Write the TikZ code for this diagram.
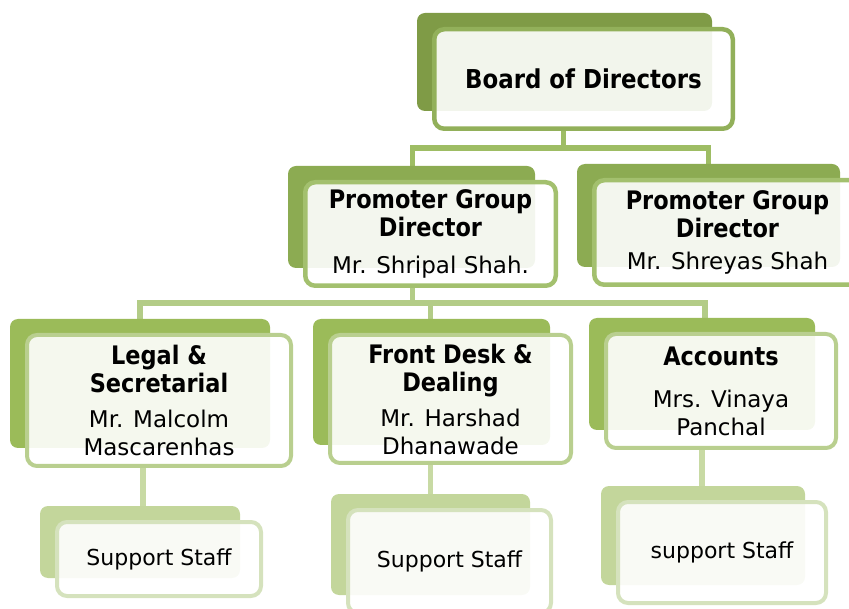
\documentclass[tikz,border=0pt]{standalone}
\usepackage{fontspec}
\setmainfont{DejaVu Sans}[BoldFeatures={FakeStretch=0.88}]
\usetikzlibrary{backgrounds}

\definecolor{back0}{HTML}{7F9B46}
\definecolor{rim0}{HTML}{92B05A}
\definecolor{back1}{HTML}{8CAB52}
\definecolor{rim1}{HTML}{A3C06E}
\definecolor{back2}{HTML}{9BBB59}
\definecolor{rim2}{HTML}{B9CF8F}
\definecolor{back3}{HTML}{C3D69B}
\definecolor{rim3}{HTML}{D5E2BD}
\definecolor{wire0}{HTML}{9EBD64}
\definecolor{wire1}{HTML}{B3CC87}
\definecolor{wire2}{HTML}{C8DAA4}

\newcommand\hd[2][25.5]{{\fontsize{#1}{28}\selectfont\bfseries #2}}

\begin{document}
\begin{tikzpicture}[x=1pt,y=-1pt,
    box/.style={rounded corners=10pt,fill=white,fill opacity=0.9,text opacity=1,
                align=center,inner sep=0pt,font=\fontsize{23}{28}\selectfont},
    board node/.style={box,draw=rim0,line width=4.5pt},
    promoter node/.style={box,draw=rim1,line width=4.5pt},
    dept node/.style={box,draw=rim2,line width=4pt},
    staff node/.style={box,draw=rim3,line width=4pt,font=\fontsize{22}{28}\selectfont},
    wire/.style={line width=5.5pt}]

  \useasboundingbox (0,0) rectangle (849,609);

  \node[board node,minimum width=298.5pt,minimum height=99.5pt] (board) at (583.5,79) {\hd[26]{Board of Directors}};

  \node[promoter node,minimum width=250.5pt,minimum height=103.5pt] (pgdA) at (430.5,234)
    {\hd{Promoter Group}\\\hd{Director}\\[9pt]Mr. Shripal Shah.};
  \node[promoter node,minimum width=266.5pt,minimum height=104.5pt] (pgdB) at (727.5,232.5)
    {\hd{Promoter Group}\\\hd{Director}\\[4pt]Mr. Shreyas Shah};

  \node[dept node,minimum width=264pt,minimum height=131pt] (legal) at (159,400.5)
    {\hd{Legal \&}\\\hd{Secretarial}\\[7pt]Mr. Malcolm\\Mascarenhas};
  \node[dept node,minimum width=241pt,minimum height=128pt] (desk) at (450.5,399)
    {\hd{Front Desk \&}\\\hd{Dealing}\\[7pt]Mr. Harshad\\Dhanawade};
  \node[dept node,minimum width=230pt,minimum height=114pt] (accounts) at (721,391)
    {\hd{Accounts}\\[14pt]Mrs. Vinaya\\Panchal};

  \node[staff node,minimum width=204pt,minimum height=74pt] (staffA) at (159,559) {Support Staff};
  \node[staff node,minimum width=203pt,minimum height=103pt] (staffB) at (449.5,561.5) {Support Staff};
  \node[staff node,minimum width=208pt,minimum height=101pt] (staffC) at (722,552.5) {support Staff};

  \begin{scope}[on background layer]
    % connectors
    \path ([yshift=-17pt]board.south) coordinate (bus0)
          ([yshift=-15pt]pgdA.south) coordinate (bus1);
    \draw[wire,wire0] ([xshift=-20pt]board.south) -- ([xshift=-20pt]board.south |- bus0);
    \draw[wire,wire0] ([xshift=-18pt]pgdA.north) |- (bus0) -| ([xshift=-19pt]pgdB.north);
    \draw[wire,wire1] ([xshift=-18pt]pgdA.south) -- ([xshift=-18pt]pgdA.south |- bus1);
    \draw[wire,wire1] ([xshift=-19pt]legal.north) |- (bus1) -| ([xshift=-16pt]accounts.north);
    \draw[wire,wire1] ([xshift=-20pt]desk.north) -- ([xshift=-20pt]desk.north |- bus1);
    \draw[wire,wire2] ([xshift=-16pt]legal.south) -- ([xshift=-16pt]legal.south |- staffA.north);
    \draw[wire,wire2] ([xshift=-20pt]desk.south) -- ([xshift=-20pt]desk.south |- staffB.north);
    \draw[wire,wire2] ([xshift=-19pt]accounts.south) -- ([xshift=-19pt]accounts.south |- staffC.north);
    % back plates
    \foreach \n/\c in {board/back0,pgdA/back1,pgdB/back1,legal/back2,desk/back2,
                       accounts/back2,staffA/back3,staffB/back3,staffC/back3}
      \fill[\c,rounded corners=8pt] ([xshift=-15pt,yshift=14pt]\n.north west)
                                    rectangle ([xshift=-23pt,yshift=20pt]\n.south east);
  \end{scope}
\end{tikzpicture}
\end{document}
